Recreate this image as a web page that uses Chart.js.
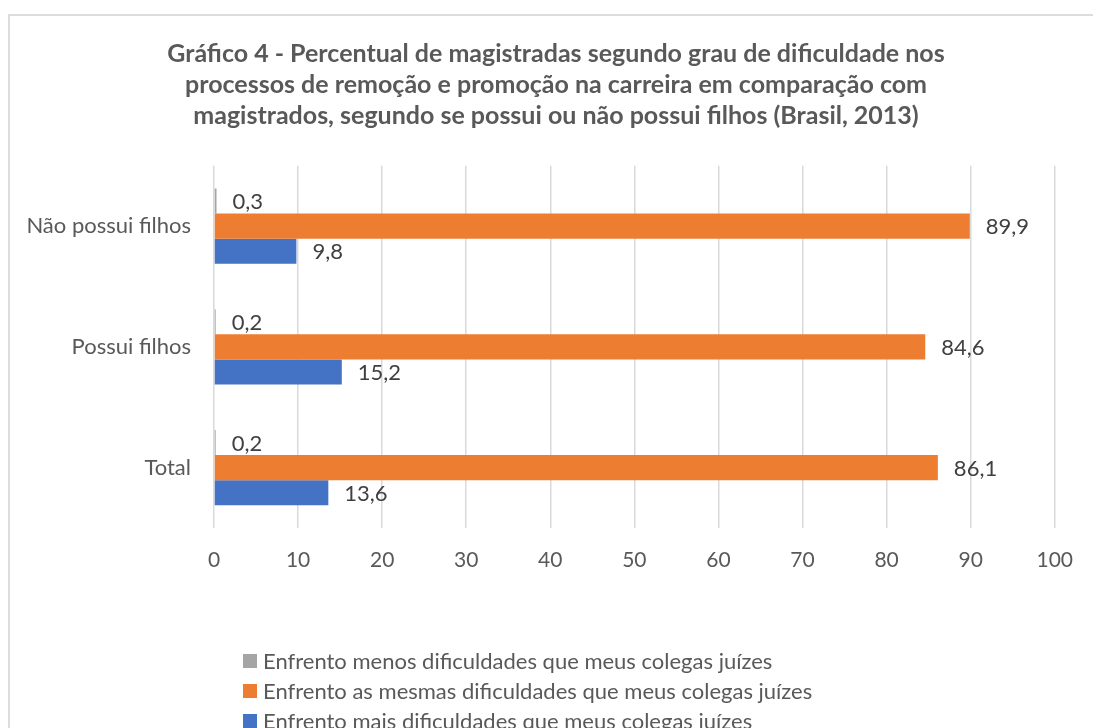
<!DOCTYPE html>
<html lang="pt-BR">
<head>
<meta charset="utf-8">
<title>Gráfico 4</title>
<script src="https://cdn.jsdelivr.net/npm/chart.js@4.4.0/dist/chart.umd.min.js"></script>
<style>
  html, body { margin: 0; padding: 0; background: #fff; overflow: hidden; }
  #wrap { position: relative; width: 1093px; height: 728px; }
  #frame {
    position: absolute; left: 8px; top: 14px; width: 1200px; height: 900px;
    border: 2px solid #dcdcdc; box-sizing: border-box; pointer-events: none;
  }
  canvas { position: absolute; left: 0; top: 0; }
</style>
</head>
<body>
<div id="wrap">
  <canvas id="myChart" width="1093" height="728"></canvas>
  <div id="frame"></div>
</div>
<script>
'use strict';

//****************************************
//          GLOBAL VARIABLES
// ****************************************

const categories = ['Não possui filhos', 'Possui filhos', 'Total'];

const menosDificuldades = [0.3, 0.2, 0.2];
const mesmasDificuldades = [89.9, 84.6, 86.1];
const maisDificuldades = [9.8, 15.2, 13.6];

const seriesNames = [
  'Enfrento menos dificuldades que meus colegas juízes',
  'Enfrento as mesmas dificuldades que meus colegas juízes',
  'Enfrento mais dificuldades que meus colegas juízes'
];

const xTicks = [0, 10, 20, 30, 40, 50, 60, 70, 80, 90, 100];

const titleLines = [
  'Gráfico 4 - Percentual de magistradas segundo grau de dificuldade nos',
  'processos de remoção e promoção na carreira em comparação com',
  'magistrados, segundo se possui ou não possui filhos (Brasil, 2013)'
];

const colors = ['#a5a5a5', '#ed7d31', '#4472c4'];
const FONT = 'Lato, "Open Sans", sans-serif';

let ctx = document.getElementById('myChart');

//****************************************
//            HELPER FUNCTIONS
//****************************************

// 89.9 -> "89,9"
function fmt(v) {
  return v.toFixed(1).replace('.', ',');
}

// TITLE IS CENTRED ON THE FRAME, NOT ON THE CANVAS
const titleShift = {
  id: 'titleShift',
  afterLayout(chart) {
    chart.titleBlock.left += 55;
  }
};

// VALUE LABELS NEXT TO EACH BAR
const valueLabels = {
  id: 'valueLabels',
  afterDatasetsDraw(chart) {
    let c = chart.ctx;
    c.save();
    c.font = '22px ' + FONT;
    c.fillStyle = '#404040';
    c.textAlign = 'left';
    c.textBaseline = 'middle';
    chart.data.datasets.forEach(function (ds, i) {
      chart.getDatasetMeta(i).data.forEach(function (bar, j) {
        c.fillText(fmt(ds.data[j]), bar.x + 16, bar.y + 1);
      });
    });
    c.restore();
  }
};

// STACKED LEGEND UNDER THE AXIS
const listLegend = {
  id: 'listLegend',
  afterDraw(chart) {
    let c = chart.ctx;
    c.save();
    c.font = '22px ' + FONT;
    c.textAlign = 'left';
    c.textBaseline = 'middle';
    for (let i = 0; i < seriesNames.length; i++) {
      let y = 661 + i * 30;
      c.fillStyle = colors[i];
      c.fillRect(243, y - 7, 14, 14);
      c.fillStyle = '#595959';
      c.fillText(seriesNames[i], 263, y + 1);
    }
    c.restore();
  }
};

// *********************************************
//              CHART RENDERING
// *********************************************

new Chart(ctx, {
  type: 'bar',
  data: {
    labels: categories,
    datasets: [{
      label: seriesNames[0],
      data: menosDificuldades,
      backgroundColor: colors[0]
    }, {
      label: seriesNames[1],
      data: mesmasDificuldades,
      backgroundColor: colors[1]
    }, {
      label: seriesNames[2],
      data: maisDificuldades,
      backgroundColor: colors[2]
    }]
  },
  options: {
    indexAxis: 'y',
    responsive: false,
    animation: false,
    devicePixelRatio: 1,
    categoryPercentage: 0.625,
    barPercentage: 1,
    layout: { padding: { left: 0, right: 36, top: 0, bottom: 140 } },
    plugins: {
      legend: { display: false },
      tooltip: { enabled: false },
      title: {
        display: true,
        text: titleLines,
        color: '#595959',
        font: { family: FONT, size: 25, weight: 'bold', lineHeight: 1.25 },
        padding: { top: 38, bottom: 34 }
      }
    },
    scales: {
      x: {
        min: 0,
        max: 100,
        afterBuildTicks(scale) {
          scale.ticks = xTicks.map(v => ({ value: v }));
        },
        afterFit(scale) {
          scale.height = 60;
        },
        grid: { color: '#d9d9d9', lineWidth: 1.5, drawTicks: false },
        border: { display: false },
        ticks: {
          color: '#595959',
          padding: 20,
          font: { family: FONT, size: 21 }
        }
      },
      y: {
        afterFit(scale) {
          scale.width = 214;
        },
        grid: { display: false, drawTicks: false },
        border: { display: false },
        ticks: {
          color: '#595959',
          padding: 23,
          font: { family: FONT, size: 22 }
        }
      }
    }
  },
  plugins: [titleShift, valueLabels, listLegend]
});
</script>
</body>
</html>
